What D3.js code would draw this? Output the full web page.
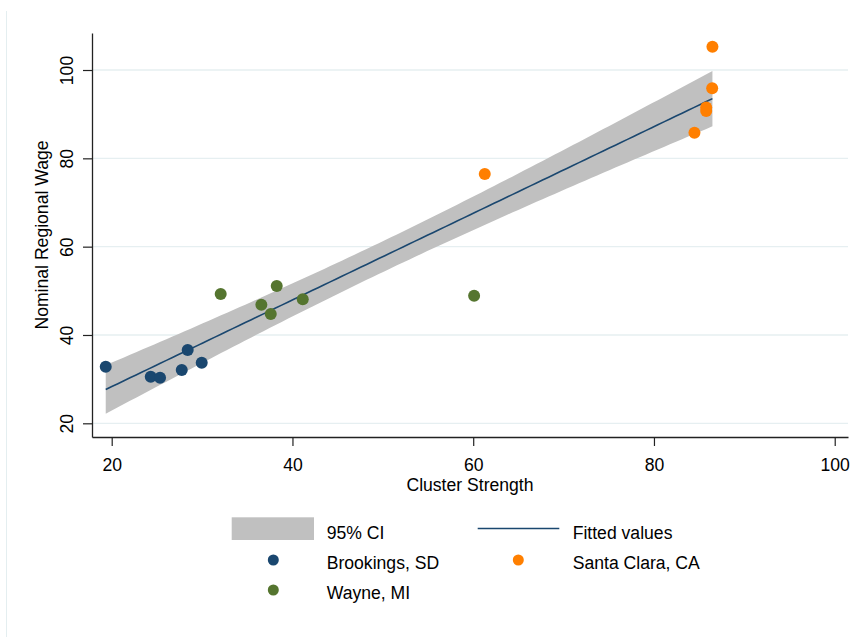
<!DOCTYPE html>
<html>
<head>
<meta charset="utf-8">
<script src="https://cdn.jsdelivr.net/npm/d3@7"></script>
<style>
  html, body { margin: 0; padding: 0; background: #ffffff; }
  svg { display: block; font-family: "Liberation Sans", Arial, Helvetica, sans-serif; }
</style>
</head>
<body>
<svg id="chart" width="852" height="637"></svg>
<script>
// Cluster strength vs. nominal regional wage, by county
const brookingsX = [19.34, 24.32, 25.35, 27.75, 28.41, 29.96];
const brookingsY = [32.8, 30.55, 30.32, 32.07, 36.6, 33.72];

const wayneX = [32.06, 38.26, 36.56, 37.6, 41.14, 60.1];
const wayneY = [49.29, 51.1, 46.85, 44.75, 48.07, 48.89];

const santaClaraX = [86.47, 86.44, 85.78, 85.78, 84.48, 61.28];
const santaClaraY = [105.27, 95.85, 91.5, 90.7, 85.8, 76.45];

const xTicks = [20, 40, 60, 80, 100];
const yTicks = [20, 40, 60, 80, 100];

// two-sided 95% t critical value, n - 2 = 16 degrees of freedom
const tCrit = 2.1199;

const series = [
  { name: "Brookings, SD", xs: brookingsX, ys: brookingsY, color: "#1a476f" },
  { name: "Wayne, MI", xs: wayneX, ys: wayneY, color: "#55752f" },
  { name: "Santa Clara, CA", xs: santaClaraX, ys: santaClaraY, color: "#ff7f00" }
];

const svg = d3.select("#chart");
const W = 852, H = 637;
const font = 17.6;

svg.append("rect").attr("width", W).attr("height", H).attr("fill", "#ffffff");
svg.append("line")
  .attr("x1", 6.5).attr("x2", 6.5).attr("y1", 11).attr("y2", H)
  .attr("stroke", "#e4eef0").attr("stroke-width", 1);

const plot = { left: 92, right: 848, top: 33, bottom: 437 };

const x = d3.scaleLinear().domain([17.82, 101.47]).range([plot.left, plot.right]);
const y = d3.scaleLinear().domain([16.9, 108.38]).range([plot.bottom, plot.top]);

// horizontal grid
svg.append("g").selectAll("line").data(yTicks).join("line")
  .attr("x1", plot.left).attr("x2", plot.right)
  .attr("y1", d => y(d)).attr("y2", d => y(d))
  .attr("stroke", "#e6eff1").attr("stroke-width", 1.3);

// OLS fit with confidence band for the mean prediction
const allX = series.flatMap(s => s.xs);
const allY = series.flatMap(s => s.ys);
const n = allX.length;
const mx = d3.mean(allX), my = d3.mean(allY);
const sxx = d3.sum(allX, v => (v - mx) * (v - mx));
const sxy = d3.sum(allX.map((v, i) => (v - mx) * (allY[i] - my)));
const slope = sxy / sxx;
const icpt = my - slope * mx;
const ssr = d3.sum(allX.map((v, i) => Math.pow(allY[i] - (icpt + slope * v), 2)));
const s = Math.sqrt(ssr / (n - 2));
const [xmin, xmax] = d3.extent(allX);
const grid = d3.range(0, 101).map(i => xmin + (xmax - xmin) * i / 100);
const fitPts = grid.map(g => {
  const f = icpt + slope * g;
  const se = s * Math.sqrt(1 / n + (g - mx) * (g - mx) / sxx);
  return { x: g, f, lo: f - tCrit * se, hi: f + tCrit * se };
});

svg.append("path").datum(fitPts)
  .attr("fill", "#c0c0c0")
  .attr("d", d3.area().x(d => x(d.x)).y0(d => y(d.lo)).y1(d => y(d.hi)));

svg.append("path").datum(fitPts)
  .attr("fill", "none").attr("stroke", "#1a476f").attr("stroke-width", 1.6)
  .attr("d", d3.line().x(d => x(d.x)).y(d => y(d.f)));

// scatter points
series.forEach(sr => {
  svg.append("g").selectAll("circle").data(sr.xs.map((v, i) => [v, sr.ys[i]])).join("circle")
    .attr("cx", d => x(d[0])).attr("cy", d => y(d[1])).attr("r", 6)
    .attr("fill", sr.color);
});

// axes
const axisColor = "#222222";
const xAxis = svg.append("g").attr("transform", `translate(0,${plot.bottom})`)
  .call(d3.axisBottom(x).tickValues(xTicks).tickSize(9).tickSizeOuter(0));
xAxis.select(".domain").attr("stroke", axisColor).attr("stroke-width", 1.3);
xAxis.selectAll(".tick line").attr("stroke", axisColor).attr("stroke-width", 1.2);
xAxis.selectAll(".tick text")
  .attr("y", 33.5).attr("dy", 0)
  .attr("font-size", font).attr("font-family", "Liberation Sans, Arial, sans-serif")
  .attr("fill", "#000");

const yAxis = svg.append("g").attr("transform", `translate(${plot.left},0)`)
  .call(d3.axisLeft(y).tickValues(yTicks).tickSize(9).tickSizeOuter(0));
yAxis.select(".domain").attr("stroke", axisColor).attr("stroke-width", 1.3);
yAxis.selectAll(".tick line").attr("stroke", axisColor).attr("stroke-width", 1.2);
yAxis.selectAll(".tick text")
  .attr("transform", "rotate(-90)")
  .attr("x", 0).attr("y", -19).attr("dy", 0)
  .attr("text-anchor", "middle")
  .attr("font-size", font).attr("font-family", "Liberation Sans, Arial, sans-serif")
  .attr("fill", "#000");

// axis titles
svg.append("text")
  .attr("x", (plot.left + plot.right) / 2).attr("y", 490.5)
  .attr("text-anchor", "middle").attr("font-size", font).attr("fill", "#000")
  .text("Cluster Strength");
svg.append("text")
  .attr("transform", `translate(48,${(plot.top + plot.bottom) / 2}) rotate(-90)`)
  .attr("text-anchor", "middle").attr("font-size", font).attr("fill", "#000")
  .text("Nominal Regional Wage");

// legend
const leg = svg.append("g");
const col1Key = 273.3, col1Text = 326.7, col2Key = 518.3, col2Text = 572.7;
const rows = [528.5, 560, 590];

leg.append("rect").attr("x", 231.7).attr("y", 517.3).attr("width", 82.3).attr("height", 22.7)
  .attr("fill", "#c0c0c0");
leg.append("text").attr("x", col1Text).attr("y", rows[0] + 10).attr("font-size", font).text("95% CI");

leg.append("line").attr("x1", 477.7).attr("x2", 559.3).attr("y1", rows[0]).attr("y2", rows[0])
  .attr("stroke", "#1a476f").attr("stroke-width", 1.6);
leg.append("text").attr("x", col2Text).attr("y", rows[0] + 10).attr("font-size", font).text("Fitted values");

const legendPts = [
  { s: series[0], kx: col1Key, tx: col1Text, row: rows[1] },
  { s: series[2], kx: col2Key, tx: col2Text, row: rows[1] },
  { s: series[1], kx: col1Key, tx: col1Text, row: rows[2] }
];
legendPts.forEach(p => {
  leg.append("circle").attr("cx", p.kx).attr("cy", p.row).attr("r", 5.5).attr("fill", p.s.color);
  leg.append("text").attr("x", p.tx).attr("y", p.row + 8.5).attr("font-size", font).text(p.s.name);
});
</script>
</body>
</html>
